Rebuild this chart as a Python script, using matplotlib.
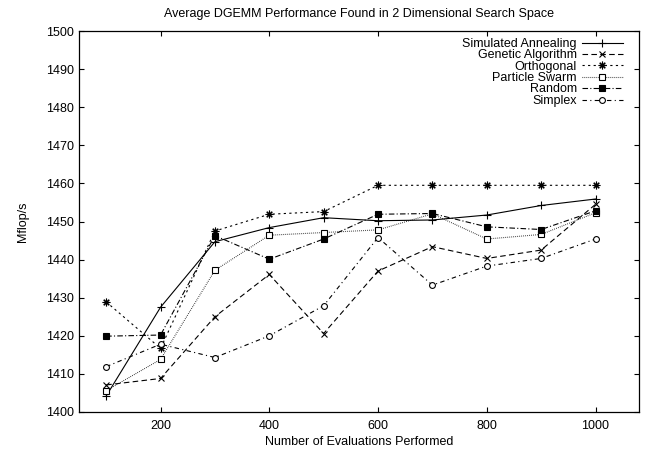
import numpy as np
import matplotlib
matplotlib.use("Agg")
import matplotlib.pyplot as plt

evals = [100, 200, 300, 400, 500, 600, 700, 800, 900, 1000]

sim_anneal = [1404.2, 1427.5, 1444.7, 1448.4, 1451.0, 1450.2, 1450.4, 1451.7, 1454.2, 1455.9]
genetic = [1407.1, 1408.8, 1425.0, 1436.1, 1420.6, 1437.0, 1443.4, 1440.3, 1442.5, 1454.5]
orthogonal = [1428.9, 1416.7, 1447.5, 1451.9, 1452.6, 1459.5, 1459.5, 1459.5, 1459.5, 1459.5]
particle = [1405.6, 1413.8, 1437.2, 1446.4, 1447.1, 1447.8, 1452.0, 1445.4, 1446.6, 1452.3]
random_s = [1419.9, 1420.2, 1446.3, 1440.1, 1445.4, 1451.9, 1452.1, 1448.6, 1447.9, 1452.8]
simplex = [1411.9, 1417.8, 1414.3, 1420.0, 1427.9, 1445.8, 1433.3, 1438.3, 1440.3, 1445.4]

labels = ["Simulated Annealing", "Genetic Algorithm", "Orthogonal",
          "Particle Swarm", "Random", "Simplex"]

plt.rcParams.update({
    "font.family": "Liberation Sans",
    "font.size": 9,
    "axes.linewidth": 0.9,
    "xtick.direction": "in",
    "ytick.direction": "in",
    "xtick.top": True,
    "ytick.right": True,
    "xtick.major.size": 3.5,
    "ytick.major.size": 3.5,
    "xtick.major.width": 0.8,
    "ytick.major.width": 0.8,
    "xtick.major.pad": 5.5,
})

W, H = 648, 451
fig = plt.figure(figsize=(W / 100, H / 100), dpi=100)
ax = fig.add_axes([79 / W, 1 - 412 / H, (639 - 79) / W, (412 - 31) / H])

lw = 0.8
styles = [
    dict(ls="-", marker="+", ms=6),
    dict(ls=(0, (5, 3)), marker="x", ms=4.5),
    dict(ls=(0, (2, 3)), marker=(8, 2, 0), ms=5.5),
    dict(ls=(0, (0.6, 1.2)), marker="s", ms=4.2, mfc="white"),
    dict(ls=(0, (5, 2, 1, 2)), marker="s", ms=4.5, mfc="black"),
    dict(ls=(0, (4, 3, 1, 3)), marker="o", ms=4.2, mfc="white"),
]
series = [sim_anneal, genetic, orthogonal, particle, random_s, simplex]

for vals, lab, st in zip(series, labels, styles):
    ax.plot(evals, vals, color="black", lw=lw, mew=0.8, mec="black",
            label=lab, **st)

ax.set_xlim(50, 1080)
ax.set_ylim(1400, 1500)
ax.set_xticks([200, 400, 600, 800, 1000])
ax.set_yticks(np.arange(1400, 1501, 10))

ax.set_xlabel("Number of Evaluations Performed", labelpad=3)
ax.set_ylabel("Mflop/s", labelpad=12)
ax.set_title("Average DGEMM Performance Found in 2 Dimensional Search Space",
             fontsize=9, pad=10)

ax.legend(loc="upper right", bbox_to_anchor=(623 / W, 1 - 38 / H),
          bbox_transform=fig.transFigure, frameon=False, markerfirst=False,
          handlelength=3.3, handletextpad=0.4, borderpad=0, borderaxespad=0,
          labelspacing=-0.05, fontsize=9)

fig.savefig("out.png", dpi=100)
